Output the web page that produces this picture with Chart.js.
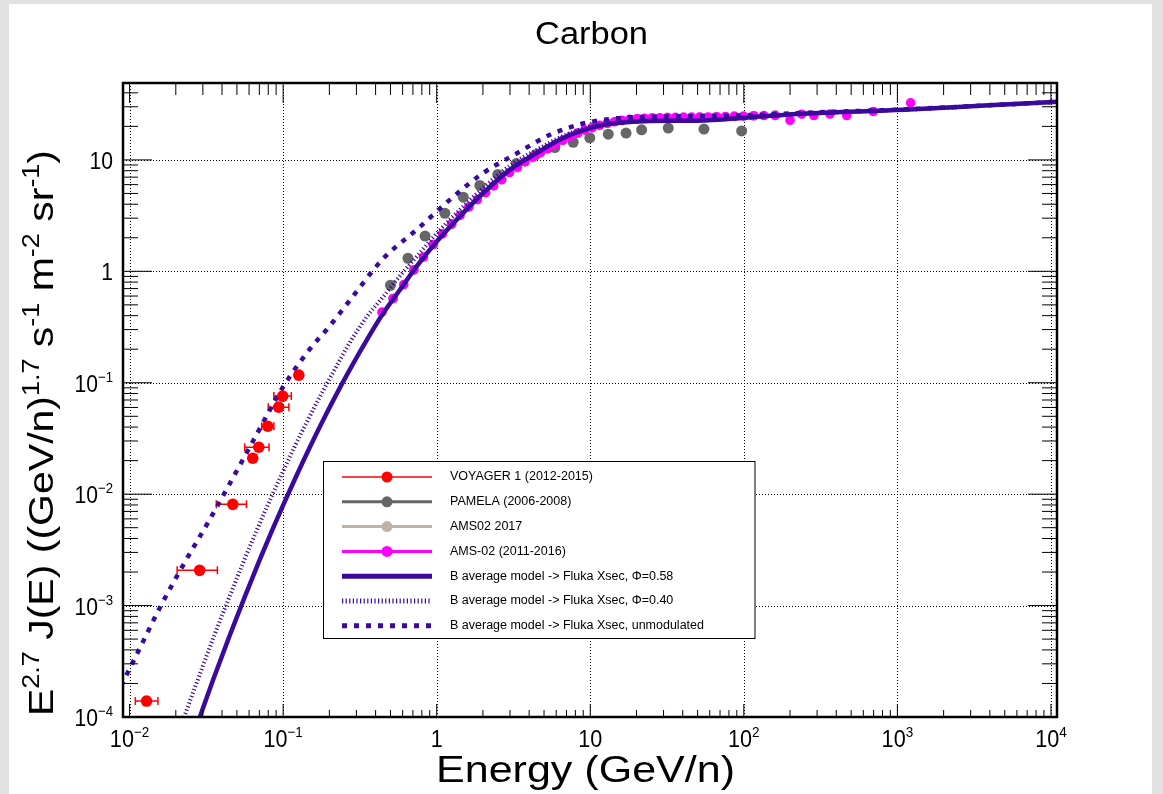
<!DOCTYPE html>
<html>
<head>
  <title>index</title>
  <script src="https://cdn.jsdelivr.net/npm/chart.js"></script>
  <style>
    body { margin: 0; background: #e1e1e1; }
    canvas { display: block; }
  </style>
</head>
<body>
  <canvas id="chart" width="1163" height="794"></canvas>

  <script>
    // Voyager 1 points, with energy error bars
    const voyagerE = [0.0129, 0.0286, 0.047, 0.0634, 0.0694, 0.0794, 0.0935, 0.0993, 0.1265];
    const voyagerFlux = [1.39e-4, 2.07e-3, 8.1e-3, 0.021, 0.0264, 0.0407, 0.0604, 0.0759, 0.117];
    const voyagerElow = [0.0109, 0.0204, 0.0367, 0.0600, 0.0562, 0.0725, 0.0800, 0.0870, 0.1200];
    const voyagerEhigh = [0.0153, 0.0373, 0.0577, 0.0670, 0.0809, 0.0870, 0.1090, 0.1130, 0.1330];

    const pamelaE = [0.50, 0.65, 0.84, 1.13, 1.49, 1.91, 2.5, 3.3, 4.4, 5.88, 7.74, 9.93, 13.1, 17.1, 21.6, 32.2, 55.0, 96.8];
    const pamelaFlux = [0.75, 1.31, 2.07, 3.32, 4.63, 5.9, 7.4, 9.3, 11.1, 12.9, 14.4, 15.8, 17.0, 17.4, 18.6, 19.3, 18.9, 18.2];

    const ams2017E = [0.52, 0.71, 0.95, 1.25, 1.62, 2.08, 2.65, 3.35, 4.22, 5.30, 6.62, 8.27, 10.3, 12.9, 16.1, 20.2, 25.3, 31.9, 40.5, 51.6, 66.5, 86.7, 116, 160];
    const ams2017Flux = [0.57, 1.03, 1.74, 2.65, 3.78, 5.10, 6.65, 8.45, 10.45, 12.6, 15.0, 17.4, 19.5, 21.3, 22.6, 23.4, 23.8, 24.0, 24.1, 24.2, 24.4, 24.6, 24.9, 25.1];

    const amsE = [0.44, 0.52, 0.61, 0.71, 0.82, 0.95, 1.09, 1.25, 1.42, 1.62, 1.84, 2.08, 2.35, 2.65, 2.98, 3.35, 3.76, 4.22, 4.74, 5.30,
                  5.93, 6.62, 7.40, 8.27, 9.2, 10.3, 11.5, 12.9, 14.4, 16.1, 18.0, 20.2, 22.6, 25.3, 28.4, 31.9, 35.9, 40.5, 45.7, 51.6,
                  58.5, 66.5, 75.8, 86.7, 99.5, 116, 135, 160, 200, 238, 286, 364, 468, 697, 1220];
    const amsFlux = [0.43, 0.57, 0.76, 1.03, 1.34, 1.74, 2.17, 2.65, 3.18, 3.78, 4.40, 5.10, 5.85, 6.65, 7.7, 8.6, 9.6, 10.6, 11.6, 12.6,
                     13.8, 15.0, 16.2, 17.4, 18.5, 19.5, 20.4, 21.3, 22.0, 22.6, 23.1, 23.4, 23.6, 23.8, 23.9, 24.0, 24.1, 24.1, 24.2, 24.2,
                     24.3, 24.4, 24.5, 24.6, 24.7, 24.9, 25.0, 25.1, 22.7, 25.7, 25.0, 25.8, 25.0, 27.2, 32.5];

    // model curves
    const model058E = [0.027, 0.035, 0.045, 0.056, 0.07, 0.085, 0.1, 0.12, 0.15, 0.18, 0.22, 0.27, 0.33, 0.448, 0.575, 0.738, 1.02, 1.41,
                       2.0, 2.99, 4.47, 6.65, 9.93, 14.8, 24.4, 49.2, 112, 240, 1104, 3936, 10950];
    const model058Flux = [7.9e-5, 2.16e-4, 5.45e-4, 1.18e-3, 2.53e-3, 4.78e-3, 7.98e-3, 0.0139, 0.0268, 0.0447, 0.0766, 0.129, 0.21, 0.42, 0.679, 1.10, 1.91, 3.10,
                          5.02, 8.13, 11.5, 15.7, 19.3, 21.4, 22.4, 22.5, 24.2, 26.0, 28.2, 30.9, 33.2];
    const model040E = [0.021, 0.0278, 0.0357, 0.0445, 0.0556, 0.0675, 0.0794, 0.0953, 0.119, 0.143, 0.175, 0.215, 0.272, 0.35, 0.448, 0.58, 0.738,
                       1.02, 1.41, 2.0, 3.0, 4.47, 6.65, 10, 15, 25, 49, 112, 240, 1104, 3936, 10950];
    const model040Flux = [7.5e-5, 2.16e-4, 5.45e-4, 1.18e-3, 2.53e-3, 4.78e-3, 7.98e-3, 0.0139, 0.0268, 0.0447, 0.0766, 0.129, 0.23, 0.39, 0.591, 0.92, 1.35,
                          2.25, 3.55, 5.6, 8.9, 12.3, 16.4, 19.8, 21.7, 22.6, 22.6, 24.2, 26.0, 28.2, 30.9, 33.2];
    const unmodE = [0.0088, 0.0113, 0.0157, 0.0223, 0.0325, 0.045, 0.0637, 0.1, 0.149, 0.2, 0.272, 0.448, 0.738, 1.22, 2.0, 3.31, 5.46, 9.0, 14.8,
                    25, 50, 112, 240, 1104, 3936, 10950];
    const unmodFlux = [1.9e-4, 3.8e-4, 9.5e-4, 2.3e-3, 5.6e-3, 0.0125, 0.03, 0.092, 0.2, 0.32, 0.55, 1.30, 2.35, 4.4, 7.6, 11.4, 16.8, 21.2, 23.6,
                       24.4, 24.7, 25.2, 26.4, 28.4, 30.9, 33.2];

    // axis ticks and labels [base, exponent]
    const xDecades = [0.01, 0.1, 1, 10, 100, 1000, 10000];
    const xTickLabels = [['10', '\u22122'], ['10', '\u22121'], ['1', ''], ['10', ''], ['10', '2'], ['10', '3'], ['10', '4']];
    const yDecades = [1e-4, 1e-3, 1e-2, 0.1, 1, 10];
    const yTickLabels = [['10', '\u22124'], ['10', '\u22123'], ['10', '\u22122'], ['10', '\u22121'], ['1', ''], ['10', '']];

    const xMin = 0.00906, xMax = 10950, yMin = 1e-4, yMax = 49;
    const FONT = '"Liberation Sans", Arial, sans-serif';
    const INDIGO = '#3a0a9c';

    const pts = (xs, ys) => xs.map((x, i) => ({ x: x, y: ys[i] }));

    function minors(lo, hi) {
      const out = [];
      for (let e = -4; e <= 4; e++) {
        for (let m = 2; m <= 9; m++) {
          const v = m * Math.pow(10, e);
          if (v > lo && v < hi) out.push(v);
        }
      }
      return out;
    }

    // text with superscripts, squeezed/stretched horizontally by sx
    function richWidth(ctx, parts, size, supSize) {
      let w = 0;
      parts.forEach(p => {
        ctx.font = (p[1] ? supSize : size) + 'px ' + FONT;
        w += ctx.measureText(p[0]).width;
      });
      return w;
    }
    function drawRich(ctx, parts, x, y, size, supSize, rise, sx, align) {
      const w = richWidth(ctx, parts, size, supSize) * sx;
      let cx = align === 'center' ? x - w / 2 : align === 'right' ? x - w : x;
      ctx.textAlign = 'left';
      ctx.textBaseline = 'alphabetic';
      parts.forEach(p => {
        ctx.font = (p[1] ? supSize : size) + 'px ' + FONT;
        const tw = ctx.measureText(p[0]).width;
        ctx.save();
        ctx.translate(cx, p[1] ? y - rise : y);
        ctx.scale(sx, 1);
        ctx.fillText(p[0], 0, 0);
        ctx.restore();
        cx += tw * sx;
      });
    }
    function drawFit(ctx, parts, x, y, size, supSize, rise, width, align) {
      const sx = width / richWidth(ctx, parts, size, supSize);
      drawRich(ctx, parts, x, y, size, supSize, rise, sx, align);
    }

    const datasets = [
      {
        label: 'VOYAGER 1 (2012-2015)', data: pts(voyagerE, voyagerFlux), showLine: false,
        pointRadius: 5.8, pointBorderWidth: 0, backgroundColor: '#ff0000', borderColor: '#ff0000',
        legendWidth: 1.5, order: 0
      },
      {
        label: 'PAMELA (2006-2008)', data: pts(pamelaE, pamelaFlux), showLine: false,
        pointRadius: 5.5, pointBorderWidth: 0, backgroundColor: '#666666', borderColor: '#666666',
        legendWidth: 3, order: 5
      },
      {
        label: 'AMS02 2017', data: pts(ams2017E, ams2017Flux), showLine: false,
        pointRadius: 5, pointBorderWidth: 0, backgroundColor: '#bfb3a8', borderColor: '#bfb3a8',
        legendWidth: 3, order: 6
      },
      {
        label: 'AMS-02 (2011-2016)', data: pts(amsE, amsFlux), showLine: false,
        pointRadius: 4.8, pointBorderWidth: 0, backgroundColor: '#ff00ff', borderColor: '#ff00ff',
        legendWidth: 3, order: 4
      },
      {
        label: 'B average model -> Fluka Xsec, \u03A6=0.58', data: pts(model058E, model058Flux), showLine: true,
        pointRadius: 0, borderColor: INDIGO, borderWidth: 4.5, cubicInterpolationMode: 'monotone',
        legendWidth: 5, order: 1
      },
      {
        label: 'B average model -> Fluka Xsec, \u03A6=0.40', data: pts(model040E, model040Flux), showLine: true,
        pointRadius: 0, borderColor: INDIGO, borderWidth: 4, borderDash: [1.2, 2.4], cubicInterpolationMode: 'monotone',
        legendWidth: 5, order: 2
      },
      {
        label: 'B average model -> Fluka Xsec, unmodulated', data: pts(unmodE, unmodFlux), showLine: true,
        pointRadius: 0, borderColor: INDIGO, borderWidth: 4.5, borderDash: [5, 7], cubicInterpolationMode: 'monotone',
        legendWidth: 5, order: 2
      }
    ];
    datasets.forEach(d => { d.clip = 0; });

    const decor = {
      id: 'decor',
      beforeDraw(chart) {
        const ctx = chart.ctx;
        ctx.save();
        ctx.fillStyle = '#e1e1e1';
        ctx.fillRect(0, 0, chart.width, chart.height);
        ctx.fillStyle = '#ffffff';
        ctx.fillRect(9, 4, 1143, 790);
        ctx.restore();
      },
      beforeDatasetsDraw(chart) {
        const ctx = chart.ctx, x = chart.scales.x, y = chart.scales.y, a = chart.chartArea;
        ctx.save();
        // dotted grid at decades
        ctx.strokeStyle = '#000';
        ctx.lineWidth = 1;
        ctx.setLineDash([1, 2]);
        xDecades.forEach(v => {
          const px = Math.round(x.getPixelForValue(v)) + 0.5;
          ctx.beginPath(); ctx.moveTo(px, a.top); ctx.lineTo(px, a.bottom); ctx.stroke();
        });
        yDecades.forEach(v => {
          const py = Math.round(y.getPixelForValue(v)) + 0.5;
          ctx.beginPath(); ctx.moveTo(a.left, py); ctx.lineTo(a.right, py); ctx.stroke();
        });
        ctx.setLineDash([]);
        // Voyager energy error bars
        ctx.strokeStyle = '#ff0000';
        ctx.lineWidth = 1.5;
        voyagerE.forEach((e, i) => {
          const py = y.getPixelForValue(voyagerFlux[i]);
          const x0 = x.getPixelForValue(voyagerElow[i]), x1 = x.getPixelForValue(voyagerEhigh[i]);
          ctx.beginPath();
          ctx.moveTo(x0, py); ctx.lineTo(x1, py);
          ctx.moveTo(x0, py - 4); ctx.lineTo(x0, py + 4);
          ctx.moveTo(x1, py - 4); ctx.lineTo(x1, py + 4);
          ctx.stroke();
        });
        ctx.restore();
      },
      afterDatasetsDraw(chart) {
        const ctx = chart.ctx, x = chart.scales.x, y = chart.scales.y, a = chart.chartArea;
        ctx.save();
        ctx.strokeStyle = '#000';
        ctx.fillStyle = '#000';
        // ticks
        ctx.lineWidth = 1;
        const xMinor = minors(xMin, xMax), yMinor = minors(yMin, yMax);
        ctx.beginPath();
        xDecades.forEach(v => {
          const px = x.getPixelForValue(v);
          ctx.moveTo(px, a.bottom); ctx.lineTo(px, a.bottom - 13);
          ctx.moveTo(px, a.top); ctx.lineTo(px, a.top + 20);
        });
        xMinor.forEach(v => {
          const px = x.getPixelForValue(v);
          ctx.moveTo(px, a.bottom); ctx.lineTo(px, a.bottom - 7);
          ctx.moveTo(px, a.top); ctx.lineTo(px, a.top + 12);
        });
        yDecades.forEach(v => {
          const py = y.getPixelForValue(v);
          ctx.moveTo(a.left, py); ctx.lineTo(a.left + 29, py);
          ctx.moveTo(a.right, py); ctx.lineTo(a.right - 29, py);
        });
        yMinor.forEach(v => {
          const py = y.getPixelForValue(v);
          ctx.moveTo(a.left, py); ctx.lineTo(a.left + 15, py);
          ctx.moveTo(a.right, py); ctx.lineTo(a.right - 15, py);
        });
        ctx.stroke();
        // frame
        ctx.lineWidth = 2.5;
        ctx.strokeRect(a.left, a.top, a.right - a.left, a.bottom - a.top);

        // tick labels
        xDecades.forEach((v, i) => {
          const l = xTickLabels[i];
          const parts = l[1] ? [[l[0], 0], [l[1], 1]] : [[l[0], 0]];
          drawRich(ctx, parts, x.getPixelForValue(v), 747, 24, 15, 10, 0.9, 'center');
        });
        yDecades.forEach((v, i) => {
          const l = yTickLabels[i];
          const parts = l[1] ? [[l[0], 0], [l[1], 1]] : [[l[0], 0]];
          drawRich(ctx, parts, 113, y.getPixelForValue(v) + 9, 24, 15, 10, 0.88, 'right');
        });

        // titles
        drawFit(ctx, [['Carbon', 0]], 591.5, 44, 31, 20, 0, 113, 'center');
        drawFit(ctx, [['Energy (GeV/n)', 0]], 436, 782, 37, 20, 0, 299, 'left');
        ctx.save();
        ctx.translate(53, 716);
        ctx.rotate(-Math.PI / 2);
        drawFit(ctx, [['E', 0], ['2.7', 1], [' J(E) ((GeV/n)', 0], ['1.7', 1], [' s', 0], ['-1', 1], [' m', 0], ['-2', 1],
                      [' sr', 0], ['-1', 1], [')', 0]], 0, 0, 35, 23, 14, 566, 'left');
        ctx.restore();

        // legend
        const lx0 = 323.5, ly0 = 461.5, lx1 = 755, ly1 = 638.5;
        ctx.fillStyle = '#fff';
        ctx.fillRect(lx0, ly0, lx1 - lx0, ly1 - ly0);
        ctx.lineWidth = 1;
        ctx.strokeStyle = '#000';
        ctx.strokeRect(lx0, ly0, lx1 - lx0, ly1 - ly0);
        datasets.forEach((d, i) => {
          const ry = 477 + i * 24.8;
          ctx.strokeStyle = d.borderColor;
          ctx.lineWidth = d.legendWidth;
          ctx.setLineDash(d.borderDash || []);
          ctx.beginPath(); ctx.moveTo(342, ry); ctx.lineTo(432, ry); ctx.stroke();
          ctx.setLineDash([]);
          if (!d.showLine) {
            ctx.fillStyle = d.backgroundColor;
            ctx.beginPath(); ctx.arc(387, ry, 5.5, 0, Math.PI * 2); ctx.fill();
          }
          ctx.fillStyle = '#000';
          ctx.font = '12.5px ' + FONT;
          ctx.textAlign = 'left';
          ctx.textBaseline = 'middle';
          ctx.fillText(d.label, 450, ry);
        });
        ctx.restore();
      }
    };

    new Chart(document.getElementById('chart'), {
      type: 'scatter',
      data: { datasets: datasets },
      options: {
        responsive: false,
        animation: false,
        devicePixelRatio: 1,
        layout: { padding: { left: 123, top: 83, right: 106, bottom: 77 } },
        plugins: { legend: { display: false }, tooltip: { enabled: false }, title: { display: false } },
        scales: {
          x: { type: 'logarithmic', display: false, min: xMin, max: xMax },
          y: { type: 'logarithmic', display: false, min: yMin, max: yMax }
        }
      },
      plugins: [decor]
    });
  </script>
</body>
</html>
